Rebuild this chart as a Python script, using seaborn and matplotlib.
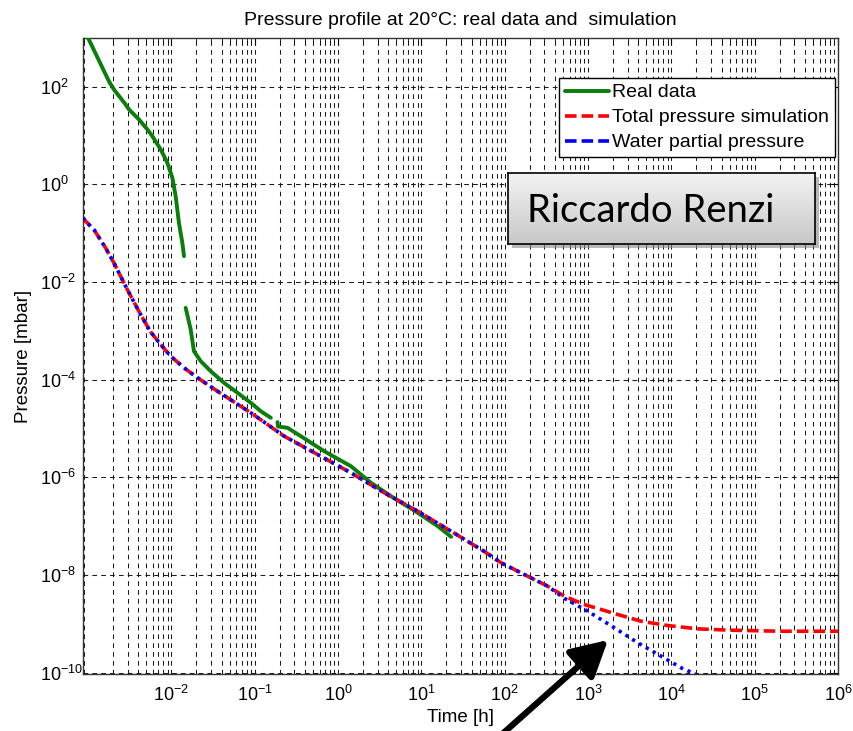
import numpy as np
import pandas as pd
import matplotlib
matplotlib.use("Agg")
import matplotlib.pyplot as plt
import seaborn as sns
from matplotlib.lines import Line2D
from matplotlib.colors import LinearSegmentedColormap
from matplotlib.ticker import LogLocator, NullLocator, FixedLocator, LogFormatterSciNotation

# ---------------- data (log10 values) ----------------
real1_logt = [-3.06, -2.99, -2.75, -2.69, -2.549, -2.509, -2.389, -2.288, -2.228,
              -2.128, -2.048, -1.988, -1.948, -1.909, -1.868, -1.848]
real1_logp = [3.2, 2.97, 2.117, 1.947, 1.639, 1.537, 1.332, 1.127, 0.99,
              0.717, 0.445, 0.137, -0.24, -0.785, -1.195, -1.469]

real2_logt = [-1.828, -1.768, -1.728, -1.648, -1.528, -1.368, -1.207, -1.047, -0.927, -0.806]
real2_logp = [-2.527, -2.971, -3.42, -3.62, -3.826, -4.064, -4.268, -4.473, -4.646, -4.781]

real3_logt = [-0.726, -0.72, -0.606, -0.446, -0.166, 0.155, 0.396, 0.636, 0.957, 1.197, 1.357]
real3_logp = [-4.87, -4.96, -4.986, -5.158, -5.465, -5.773, -6.113, -6.387, -6.727, -7.002, -7.219]

sim_common_logt = [-3.06, -3.03, -2.93, -2.79, -2.69, -2.529, -2.369, -2.249, -2.128,
                   -2.008, -1.848, -1.708, -1.447, -1.047, -0.846, -0.646, -0.245,
                   0.155, 0.555, 0.957, 1.357, 1.756, 1.957, 2.236, 2.517]
sim_common_logp = [-0.68, -0.752, -0.922, -1.297, -1.604, -2.152, -2.664, -3.02, -3.279,
                   -3.518, -3.756, -3.934, -4.236, -4.678, -4.918, -5.158, -5.533,
                   -5.908, -6.318, -6.695, -7.105, -7.52, -7.752, -7.992, -8.232]

total_tail_logt = [2.717, 2.957, 3.157, 3.358, 3.637, 3.958, 4.318, 4.718, 5.318, 6.014]
total_tail_logp = [-8.436, -8.607, -8.709, -8.811, -8.949, -9.037, -9.105, -9.133, -9.154, -9.154]

water_tail_logt = [2.717, 2.998, 3.317, 3.598, 3.878, 4.118, 4.298]
water_tail_logp = [-8.48, -8.744, -9.084, -9.391, -9.666, -9.904, -10.04]

x_tick_exps = [-2, -1, 0, 1, 2, 3, 4, 5, 6]
y_tick_exps = [-10, -8, -6, -4, -2, 0, 2]

labels = ["Real data", "Total pressure simulation", "Water partial pressure"]
title = "Pressure profile at 20\u00b0C: real data and  simulation"


def frame(logt, logp):
    return pd.DataFrame({"t": 10.0 ** np.array(logt), "p": 10.0 ** np.array(logp)})


df_real = [frame(real1_logt, real1_logp), frame(real2_logt, real2_logp),
           frame(real3_logt, real3_logp)]
df_total = frame(sim_common_logt + total_tail_logt, sim_common_logp + total_tail_logp)
df_water = frame(sim_common_logt + water_tail_logt, sim_common_logp + water_tail_logp)

# ---------------- styling ----------------
sns.set_theme(style="white")
plt.rcParams["font.family"] = ["Liberation Sans", "DejaVu Sans"]
plt.rcParams["mathtext.fontset"] = "custom"
plt.rcParams["mathtext.rm"] = "Liberation Sans"
plt.rcParams["mathtext.it"] = "Liberation Sans:italic"
plt.rcParams["mathtext.bf"] = "Liberation Sans:bold"
plt.rcParams["text.color"] = "black"
plt.rcParams["axes.labelcolor"] = "black"
plt.rcParams["xtick.color"] = "black"
plt.rcParams["ytick.color"] = "black"

W, H = 854, 731
fig = plt.figure(figsize=(W / 100, H / 100), dpi=100)
fig.patch.set_facecolor("white")
L, R, T, B = 83, 838, 38, 674
ax = fig.add_axes([L / W, 1 - B / H, (R - L) / W, (B - T) / H])

GREEN = "#0a7d0a"
RED = "#ff0000"
BLUE = "#0000ff"

for d in df_real:
    sns.lineplot(data=d, x="t", y="p", ax=ax, color=GREEN, lw=2.8,
                 sort=False, estimator=None, zorder=3)
sns.lineplot(data=df_total, x="t", y="p", ax=ax, color=RED, lw=2.6,
             sort=False, estimator=None, zorder=4, linestyle=(0, (3.2, 1.4)))
sns.lineplot(data=df_water, x="t", y="p", ax=ax, color=BLUE, lw=2.6,
             sort=False, estimator=None, zorder=5, linestyle=(0, (0.9, 1.3)))

ax.set_xscale("log")
ax.set_yscale("log")
ax.set_xlim(10 ** -3.06, 1e6)
ax.set_ylim(10 ** -10.03, 1e3)

ax.xaxis.set_major_locator(FixedLocator([10.0 ** e for e in x_tick_exps]))
ax.xaxis.set_minor_locator(LogLocator(base=10, subs=np.arange(2, 10), numticks=30))
ax.yaxis.set_major_locator(FixedLocator([10.0 ** e for e in y_tick_exps]))
ax.yaxis.set_minor_locator(NullLocator())
ax.xaxis.set_major_formatter(LogFormatterSciNotation())
ax.yaxis.set_major_formatter(LogFormatterSciNotation())

grid_kw = dict(color="#1a1a1a", lw=0.75, linestyle=(0, (4.5, 4.0)))
ax.grid(True, which="major", axis="both", **grid_kw)
ax.grid(True, which="minor", axis="x", **grid_kw)

ax.tick_params(which="both", direction="in", top=True, right=True, colors="black")
ax.tick_params(which="major", length=5, width=0.8)
ax.tick_params(which="minor", length=3, width=0.6)
ax.tick_params(axis="x", labelsize=13, pad=8)
ax.tick_params(axis="y", labelsize=13, pad=31)
for lbl in ax.get_yticklabels():
    lbl.set_horizontalalignment("left")
for s in ax.spines.values():
    s.set_color("#333333")
    s.set_linewidth(1.0)

ax.set_xlabel("Time [h]", fontsize=13.5, labelpad=3)
ax.set_ylabel("Pressure [mbar]", fontsize=13.5, labelpad=6)
ax.set_title(title, fontsize=14, pad=9)

handles = [Line2D([], [], color=GREEN, lw=2.8),
           Line2D([], [], color=RED, lw=2.6, linestyle=(0, (3.2, 1.4))),
           Line2D([], [], color=BLUE, lw=2.6, linestyle=(0, (3.2, 1.4)))]
leg = ax.legend(handles, labels, loc="upper right",
                bbox_to_anchor=((835 - L) / (R - L), 1 - (78 - T) / (B - T)),
                fontsize=14, frameon=True, fancybox=False, framealpha=1,
                edgecolor="black", handlelength=2.3, handletextpad=0.15,
                labelspacing=0.38, borderpad=0.3, borderaxespad=0.0)
leg.get_frame().set_linewidth(1.0)
leg.set_zorder(10)

# ---------------- name box ----------------
bx0, by0, bw, bh = 508, 173, 307, 71
shadow = fig.add_axes([(bx0 + 4) / W, 1 - (by0 + bh + 4) / H, bw / W, bh / H])
shadow.set_facecolor("#8a8a8a")
shadow.patch.set_alpha(0.6)
shadow.set_xticks([]); shadow.set_yticks([])
for s in shadow.spines.values():
    s.set_visible(False)
shadow.set_zorder(20)

box = fig.add_axes([bx0 / W, 1 - (by0 + bh) / H, bw / W, bh / H])
cmap = LinearSegmentedColormap.from_list("g", ["#f3f3f3", "#c8c8c8"])
grad = np.linspace(0, 1, 100).reshape(-1, 1)
box.imshow(grad, aspect="auto", cmap=cmap, extent=[0, 1, 0, 1], origin="upper")
box.set_xlim(0, 1); box.set_ylim(0, 1)
box.set_xticks([]); box.set_yticks([])
for s in box.spines.values():
    s.set_color("black")
    s.set_linewidth(1.2)
box.set_zorder(21)
box.text(0.465, 0.47, "Riccardo Renzi", ha="center", va="center",
         fontsize=27.5, family=["Lato", "DejaVu Sans"], color="black")

# ---------------- arrow ----------------
fig.patches.append(matplotlib.patches.FancyArrowPatch(
    posA=(500 / W, 1 - 736 / H), posB=(608 / W, 1 - 640 / H),
    transform=fig.transFigure, arrowstyle="-|>,head_length=11,head_width=6",
    lw=4.5, color="black", mutation_scale=2, shrinkA=0, shrinkB=0, zorder=30))

fig.savefig("out.png", dpi=100)
